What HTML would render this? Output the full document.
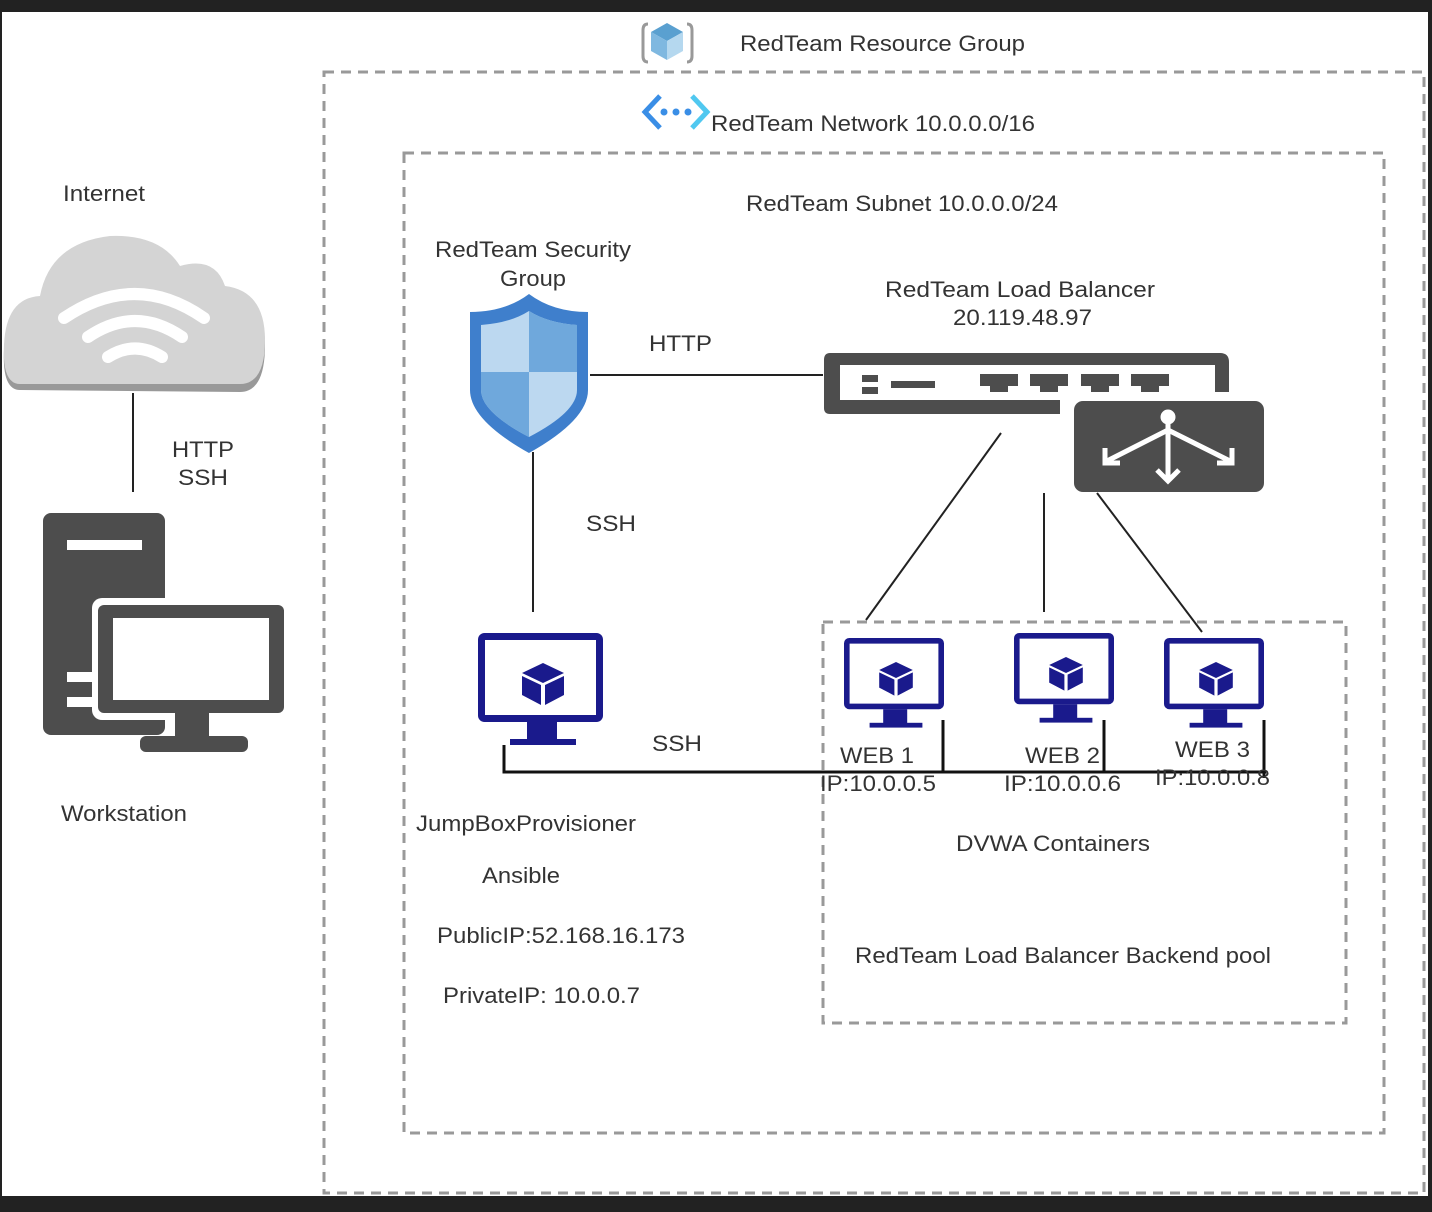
<!DOCTYPE html>
<html><head><meta charset="utf-8"><style>
html,body{margin:0;padding:0;background:#222;}
svg{display:block;}
text{font-family:"Liberation Sans",Arial,sans-serif;font-size:22px;fill:#333;}
</style></head><body>
<svg width="1432" height="1212" viewBox="0 0 1432 1212" xmlns="http://www.w3.org/2000/svg">
<rect x="0" y="0" width="1432" height="1212" fill="#222"/>
<rect x="2" y="12" width="1426" height="1184" fill="#fff"/>
<g fill="none" stroke="#999" stroke-width="3" stroke-dasharray="10,7">
<rect x="324" y="72" width="1100" height="1121"/>
<rect x="404" y="153" width="980" height="980"/>
<rect x="823" y="622" width="523" height="401"/>
</g>
<g>
<path d="M648 24 q-5 0 -5 6 v26 q0 6 5 6" fill="none" stroke="#999" stroke-width="3"/>
<path d="M687 24 q5 0 5 6 v26 q0 6 -5 6" fill="none" stroke="#999" stroke-width="3"/>
<polygon points="667,23 683,32 667,41 651,32" fill="#5aa0d0"/>
<polygon points="651,32 667,41 667,60 651,51" fill="#7fb8e0"/>
<polygon points="683,32 667,41 667,60 683,51" fill="#b5d8ef"/>
</g>
<text x="740" y="51" textLength="285" lengthAdjust="spacingAndGlyphs">RedTeam Resource Group</text>
<g>
<polyline points="660,96 645,112 660,128" fill="none" stroke="#3a8ee6" stroke-width="5"/>
<polyline points="692,96 707,112 692,128" fill="none" stroke="#50c8f0" stroke-width="5"/>
<circle cx="664" cy="112" r="3.5" fill="#3a8ee6"/><circle cx="676" cy="112" r="3.5" fill="#3a8ee6"/><circle cx="688" cy="112" r="3.5" fill="#3a8ee6"/>
</g>
<text x="711" y="131" textLength="324" lengthAdjust="spacingAndGlyphs">RedTeam Network 10.0.0.0/16</text>
<text x="746" y="211" textLength="312" lengthAdjust="spacingAndGlyphs">RedTeam Subnet 10.0.0.0/24</text>
<text x="63" y="201" textLength="82" lengthAdjust="spacingAndGlyphs">Internet</text>
<g>
<path d="M20 390 Q2 390 4 350 Q6 300 40 300 Q50 245 110 238 Q160 236 180 270 Q215 260 225 290 Q265 295 265 345 Q265 392 240 392 Z" fill="#999"/>
<path d="M20 384 Q2 384 4 345 Q6 298 40 296 Q50 243 110 236 Q160 234 180 266 Q215 256 225 286 Q265 291 265 340 Q265 384 240 384 Z" fill="#d4d4d4"/>
<path d="M64 318 Q135 270 204 318" fill="none" stroke="#fff" stroke-width="12" stroke-linecap="round"/>
<path d="M88 337 Q135 305 182 337" fill="none" stroke="#fff" stroke-width="12" stroke-linecap="round"/>
<path d="M108 357 Q135 340 162 357" fill="none" stroke="#fff" stroke-width="12" stroke-linecap="round"/>
</g>
<line x1="133" y1="393" x2="133" y2="492" stroke="#222" stroke-width="2"/>
<text x="172" y="457" textLength="62" lengthAdjust="spacingAndGlyphs">HTTP</text>
<text x="178" y="485" textLength="50" lengthAdjust="spacingAndGlyphs">SSH</text>
<g>
<rect x="43" y="513" width="122" height="222" rx="8" fill="#4d4d4d"/>
<rect x="67" y="540" width="75" height="10" fill="#fff"/>
<rect x="67" y="672" width="25" height="10" fill="#fff"/>
<rect x="67" y="697" width="25" height="10" fill="#fff"/>
<rect x="92" y="598" width="200" height="122" rx="10" fill="#fff"/>
<rect x="98" y="605" width="186" height="108" rx="6" fill="#4d4d4d"/>
<rect x="113" y="618" width="156" height="82" fill="#fff"/>
<rect x="175" y="713" width="34" height="28" fill="#4d4d4d"/>
<rect x="140" y="736" width="108" height="16" rx="6" fill="#4d4d4d"/>
</g>
<text x="61" y="821" textLength="126" lengthAdjust="spacingAndGlyphs">Workstation</text>
<text x="435" y="257" textLength="196" lengthAdjust="spacingAndGlyphs">RedTeam Security</text>
<text x="500" y="286" textLength="66" lengthAdjust="spacingAndGlyphs">Group</text>
<g>
<path d="M529 294 Q505 312 470 312 V390 Q470 420 529 453 Q588 420 588 390 V312 Q553 312 529 294 Z" fill="#3f7fcc"/>
<path d="M529 311 Q510 323 481 325 V390 Q481 412 529 437 Q577 412 577 390 V325 Q548 323 529 311 Z" fill="#bcd8f0"/>
<path d="M529 311 Q548 323 577 325 V372 H529 Z" fill="#6fa8dc"/>
<path d="M481 372 H529 V437 Q481 412 481 390 Z" fill="#6fa8dc"/>
</g>
<line x1="590" y1="375" x2="823" y2="375" stroke="#222" stroke-width="2"/>
<text x="649" y="351" textLength="63" lengthAdjust="spacingAndGlyphs">HTTP</text>
<line x1="533" y1="452" x2="533" y2="612" stroke="#222" stroke-width="2"/>
<text x="586" y="531" textLength="50" lengthAdjust="spacingAndGlyphs">SSH</text>
<text x="885" y="297" textLength="270" lengthAdjust="spacingAndGlyphs">RedTeam  Load Balancer</text>
<text x="953" y="325" textLength="139" lengthAdjust="spacingAndGlyphs">20.119.48.97</text>
<g>
<path d="M830 353 H1220 Q1229 353 1229 362 V392 H1215 V365 H840 V400 H1060 V414 H830 Q824 414 824 408 V360 Q824 353 830 353 Z" fill="#4d4d4d"/>
<rect x="862" y="375" width="16" height="7" fill="#4d4d4d"/>
<rect x="862" y="387" width="16" height="7" fill="#4d4d4d"/>
<rect x="891" y="381" width="44" height="7" fill="#4d4d4d"/>
<g fill="#4d4d4d">
<path d="M980 374 h38 v12 h-10 v6 h-18 v-6 h-10 z"/>
<path d="M1030 374 h38 v12 h-10 v6 h-18 v-6 h-10 z"/>
<path d="M1081 374 h38 v12 h-10 v6 h-18 v-6 h-10 z"/>
<path d="M1131 374 h38 v12 h-10 v6 h-18 v-6 h-10 z"/>
</g>
<rect x="1074" y="401" width="190" height="91" rx="9" fill="#4d4d4d"/>
<g stroke="#fff" stroke-width="5" fill="none">
<circle cx="1168" cy="417" r="5" fill="#fff"/>
<line x1="1168" y1="420" x2="1168" y2="478"/>
<line x1="1105" y1="462" x2="1168" y2="430"/>
<line x1="1232" y1="462" x2="1168" y2="430"/>
<polyline points="1105,448 1105,463 1120,463"/>
<polyline points="1232,448 1232,463 1217,463"/>
<polyline points="1157,470 1168,481 1179,470"/>
</g>
</g>
<line x1="1001" y1="433" x2="866" y2="620" stroke="#222" stroke-width="2"/>
<line x1="1044" y1="493" x2="1044" y2="612" stroke="#222" stroke-width="2"/>
<line x1="1097" y1="493" x2="1202" y2="632" stroke="#222" stroke-width="2"/>
<defs>
<g id="vm">
<rect x="3.5" y="3.5" width="118" height="82" rx="3" fill="#fff" stroke="#1a1a8c" stroke-width="7"/>
<rect x="49" y="89" width="30" height="18" fill="#1a1a8c"/>
<rect x="32" y="106" width="66" height="6" fill="#1a1a8c"/>
<polygon points="65,30 86,40 65,50 44,40" fill="#1a1a8c"/>
<polygon points="44,43 63,52 63,72 44,62" fill="#1a1a8c"/>
<polygon points="86,43 67,52 67,72 86,62" fill="#1a1a8c"/>
</g>
</defs>
<use href="#vm" transform="translate(478,633)"/>
<use href="#vm" transform="translate(844,638) scale(0.8)"/>
<use href="#vm" transform="translate(1014,633) scale(0.8)"/>
<use href="#vm" transform="translate(1164,638) scale(0.8)"/>
<g stroke="#111" stroke-width="3" fill="none">
<polyline points="504,745 504,772 1266,772"/>
<line x1="943" y1="720" x2="943" y2="772"/>
<line x1="1104" y1="720" x2="1104" y2="772"/>
<line x1="1264" y1="720" x2="1264" y2="778"/>
</g>
<text x="652" y="751" textLength="50" lengthAdjust="spacingAndGlyphs">SSH</text>
<text x="840" y="763" textLength="74" lengthAdjust="spacingAndGlyphs">WEB 1</text>
<text x="820" y="791" textLength="116" lengthAdjust="spacingAndGlyphs">IP:10.0.0.5</text>
<text x="1025" y="763" textLength="75" lengthAdjust="spacingAndGlyphs">WEB 2</text>
<text x="1004" y="791" textLength="117" lengthAdjust="spacingAndGlyphs">IP:10.0.0.6</text>
<text x="1175" y="757" textLength="75" lengthAdjust="spacingAndGlyphs">WEB 3</text>
<text x="1155" y="785" textLength="115" lengthAdjust="spacingAndGlyphs">IP:10.0.0.8</text>
<text x="416" y="831" textLength="220" lengthAdjust="spacingAndGlyphs">JumpBoxProvisioner</text>
<text x="482" y="883" textLength="78" lengthAdjust="spacingAndGlyphs">Ansible</text>
<text x="437" y="943" textLength="248" lengthAdjust="spacingAndGlyphs">PublicIP:52.168.16.173</text>
<text x="443" y="1003" textLength="197" lengthAdjust="spacingAndGlyphs">PrivateIP: 10.0.0.7</text>
<text x="956" y="851" textLength="194" lengthAdjust="spacingAndGlyphs">DVWA Containers</text>
<text x="855" y="963" textLength="416" lengthAdjust="spacingAndGlyphs">RedTeam Load Balancer Backend pool</text>
</svg>
</body></html>
